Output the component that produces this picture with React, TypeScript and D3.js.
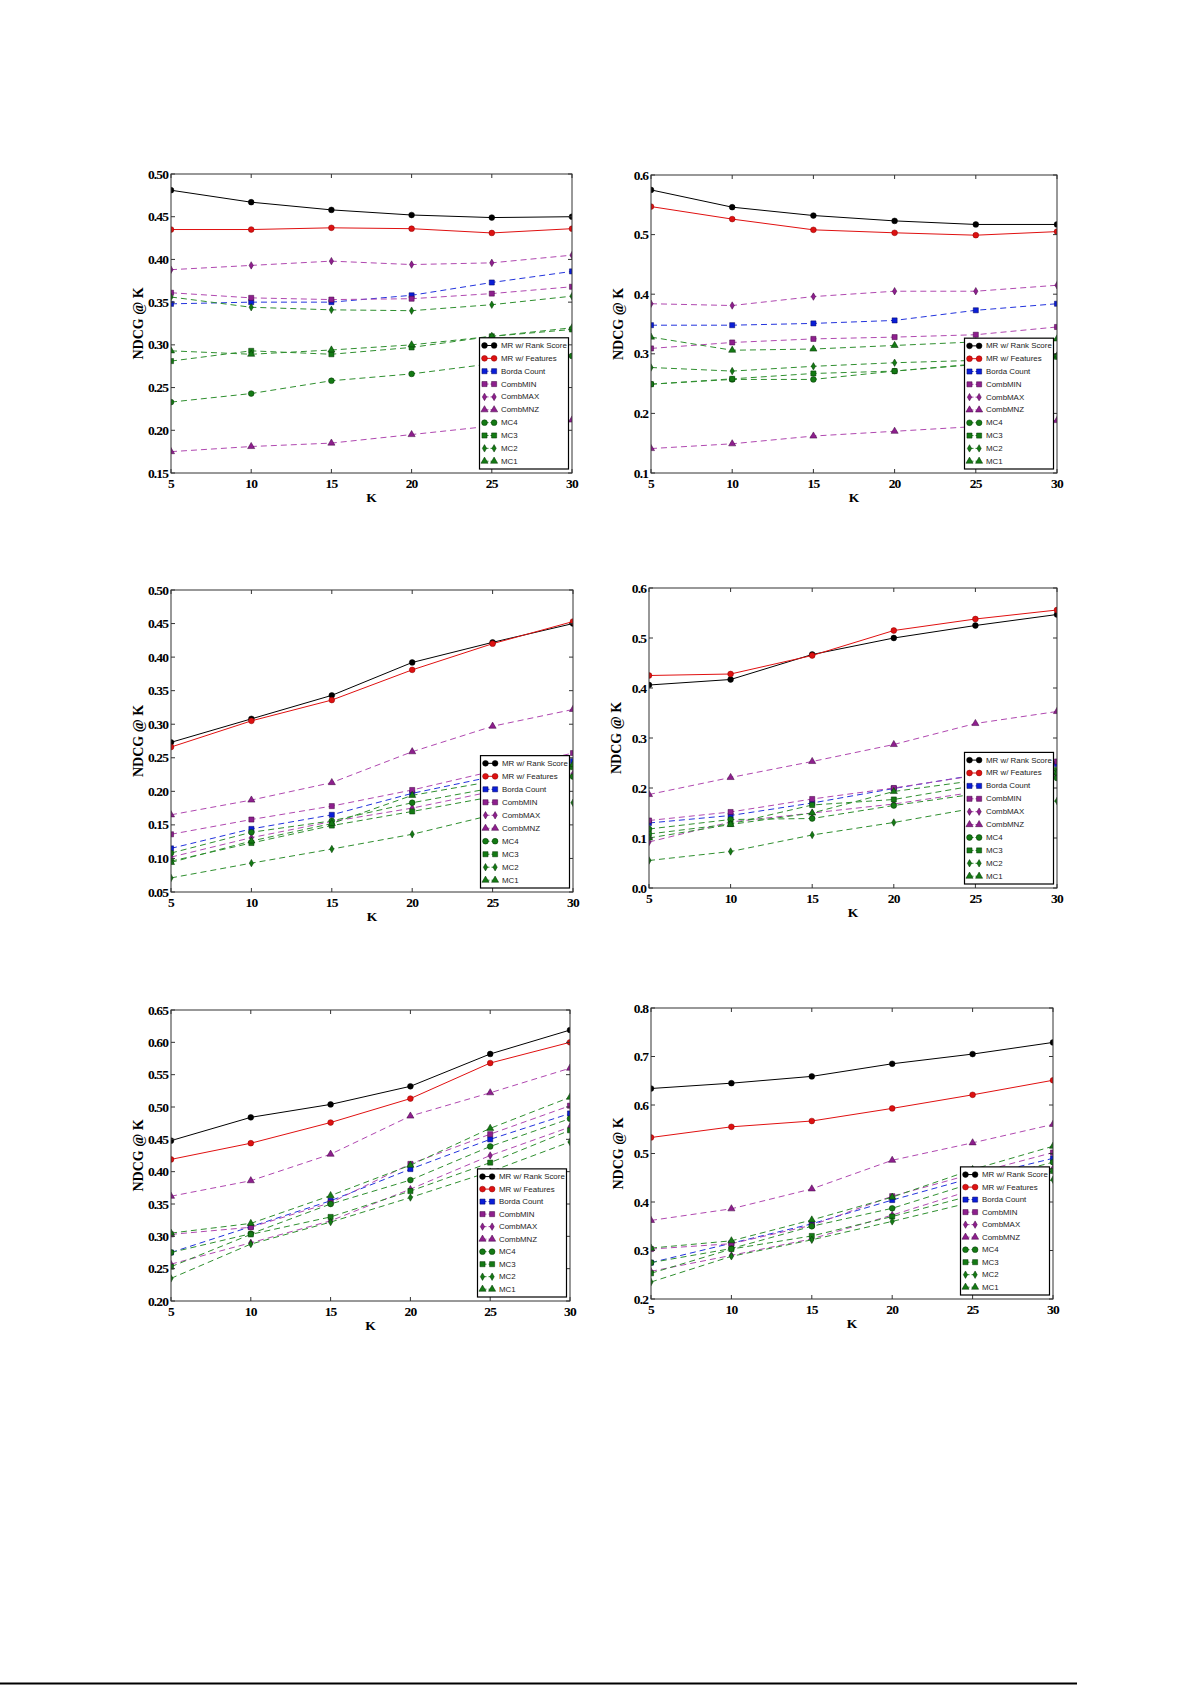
import React from "react";
import * as d3 from "d3";

// K values on the x axis (same for all six panels)
const kValues = [5, 10, 15, 20, 25, 30];

const seriesNames = [
  "MR w/ Rank Score",
  "MR w/ Features",
  "Borda Count",
  "CombMIN",
  "CombMAX",
  "CombMNZ",
  "MC4",
  "MC3",
  "MC2",
  "MC1",
];

// NDCG@K per panel, one row per series (same order as seriesNames)
const panelA = [
  [0.481, 0.467, 0.458, 0.452, 0.449, 0.45],
  [0.435, 0.435, 0.437, 0.436, 0.431, 0.436],
  [0.348, 0.35, 0.35, 0.358, 0.373, 0.386],
  [0.361, 0.355, 0.353, 0.354, 0.36, 0.368],
  [0.388, 0.393, 0.398, 0.394, 0.396, 0.405],
  [0.175, 0.181, 0.185, 0.195, 0.205, 0.212],
  [0.233, 0.243, 0.258, 0.266, 0.278, 0.287],
  [0.281, 0.293, 0.289, 0.297, 0.31, 0.318],
  [0.356, 0.344, 0.341, 0.34, 0.347, 0.357],
  [0.293, 0.289, 0.294, 0.3, 0.31, 0.32],
];

const panelB = [
  [0.575, 0.546, 0.532, 0.523, 0.517, 0.517],
  [0.547, 0.526, 0.508, 0.503, 0.499, 0.505],
  [0.348, 0.348, 0.351, 0.356, 0.373, 0.384],
  [0.309, 0.319, 0.325, 0.328, 0.332, 0.345],
  [0.384, 0.381, 0.396, 0.405, 0.405, 0.415],
  [0.141, 0.149, 0.162, 0.17, 0.178, 0.188],
  [0.249, 0.257, 0.257, 0.271, 0.283, 0.296],
  [0.249, 0.258, 0.267, 0.271, 0.282, 0.295],
  [0.277, 0.271, 0.279, 0.285, 0.289, 0.297],
  [0.328, 0.306, 0.308, 0.314, 0.32, 0.325],
];

const panelC = [
  [0.273, 0.308, 0.343, 0.392, 0.422, 0.45],
  [0.266, 0.305, 0.336, 0.381, 0.42, 0.453],
  [0.115, 0.144, 0.165, 0.197, 0.222, 0.245],
  [0.136, 0.158, 0.178, 0.202, 0.23, 0.257],
  [0.102, 0.131, 0.155, 0.175, 0.2, 0.226],
  [0.165, 0.187, 0.213, 0.259, 0.297, 0.322],
  [0.108, 0.139, 0.156, 0.183, 0.205, 0.222],
  [0.096, 0.123, 0.149, 0.17, 0.192, 0.236],
  [0.071, 0.093, 0.114, 0.136, 0.165, 0.183],
  [0.094, 0.126, 0.152, 0.194, 0.215, 0.24],
];

const panelD = [
  [0.406, 0.417, 0.467, 0.5, 0.525, 0.547],
  [0.425, 0.428, 0.465, 0.515, 0.538, 0.556],
  [0.13, 0.145, 0.17, 0.199, 0.226, 0.248],
  [0.135, 0.152, 0.178, 0.2, 0.225, 0.253],
  [0.092, 0.132, 0.15, 0.168, 0.192, 0.225],
  [0.187, 0.221, 0.253, 0.287, 0.329, 0.353],
  [0.118, 0.137, 0.139, 0.165, 0.188, 0.22],
  [0.108, 0.128, 0.166, 0.177, 0.205, 0.236],
  [0.055, 0.073, 0.106, 0.131, 0.16, 0.174],
  [0.1, 0.127, 0.15, 0.193, 0.215, 0.23],
];

const panelE = [
  [0.448, 0.484, 0.504, 0.532, 0.582, 0.619],
  [0.419, 0.444, 0.476, 0.513, 0.568, 0.6],
  [0.275, 0.315, 0.355, 0.404, 0.45, 0.49],
  [0.303, 0.314, 0.352, 0.412, 0.458, 0.502],
  [0.257, 0.29, 0.324, 0.373, 0.425, 0.469],
  [0.362, 0.386, 0.427, 0.486, 0.522, 0.56],
  [0.275, 0.304, 0.35, 0.387, 0.439, 0.482],
  [0.253, 0.303, 0.33, 0.37, 0.414, 0.464],
  [0.235, 0.288, 0.322, 0.36, 0.4, 0.446],
  [0.305, 0.32, 0.363, 0.41, 0.467, 0.515],
];

const panelF = [
  [0.634, 0.645, 0.659, 0.685, 0.705, 0.729],
  [0.533, 0.555, 0.567, 0.593, 0.621, 0.651],
  [0.275, 0.315, 0.355, 0.404, 0.45, 0.49],
  [0.303, 0.314, 0.352, 0.412, 0.458, 0.502],
  [0.257, 0.29, 0.324, 0.373, 0.425, 0.469],
  [0.362, 0.386, 0.427, 0.486, 0.522, 0.56],
  [0.275, 0.304, 0.35, 0.387, 0.439, 0.482],
  [0.253, 0.303, 0.33, 0.37, 0.414, 0.464],
  [0.235, 0.288, 0.322, 0.36, 0.4, 0.446],
  [0.305, 0.32, 0.363, 0.41, 0.467, 0.515],
];

// y tick labels per panel
const yTicksA = [0.15, 0.2, 0.25, 0.3, 0.35, 0.4, 0.45, 0.5];
const yTicksB = [0.1, 0.2, 0.3, 0.4, 0.5, 0.6];
const yTicksC = [0.05, 0.1, 0.15, 0.2, 0.25, 0.3, 0.35, 0.4, 0.45, 0.5];
const yTicksD = [0.0, 0.1, 0.2, 0.3, 0.4, 0.5, 0.6];
const yTicksE = [0.2, 0.25, 0.3, 0.35, 0.4, 0.45, 0.5, 0.55, 0.6, 0.65];
const yTicksF = [0.2, 0.3, 0.4, 0.5, 0.6, 0.7, 0.8];

type Marker = "circle" | "square" | "diamond" | "triangle";

const BLACK = { line: "#000000", fill: "#000000", edge: "#000000" };
const RED = { line: "#e01010", fill: "#dd1111", edge: "#8a0000" };
const BLUE = { line: "#2233dd", fill: "#0a1ed8", edge: "#000060" };
const PURPLE = { line: "#b048b0", fill: "#8e1f8e", edge: "#3f003f" };
const GREEN = { line: "#2f8f2f", fill: "#147a14", edge: "#003300" };

const styles: { c: typeof BLACK; m: Marker; dashed: boolean }[] = [
  { c: BLACK, m: "circle", dashed: false },
  { c: RED, m: "circle", dashed: false },
  { c: BLUE, m: "square", dashed: true },
  { c: PURPLE, m: "square", dashed: true },
  { c: PURPLE, m: "diamond", dashed: true },
  { c: PURPLE, m: "triangle", dashed: true },
  { c: GREEN, m: "circle", dashed: true },
  { c: GREEN, m: "square", dashed: true },
  { c: GREEN, m: "diamond", dashed: true },
  { c: GREEN, m: "triangle", dashed: true },
];

const symbolPath = (m: Marker) => {
  if (m === "circle") return d3.symbol(d3.symbolCircle, 26)()!;
  if (m === "square") return d3.symbol(d3.symbolSquare, 26)()!;
  if (m === "triangle") return d3.symbol(d3.symbolTriangle, 22)()!;
  return d3.symbol(d3.symbolDiamond, 16)()!;
};

const serif = "'Liberation Serif', 'DejaVu Serif', serif";
const sans = "'Liberation Sans', 'DejaVu Sans', sans-serif";

interface PanelProps {
  id: string;
  data: number[][];
  domain: [number, number];
  ticks: number[];
  fmt: string;
  x0: number;
  y0: number;
  w: number;
  h: number;
}

function Panel({ id, data, domain, ticks, fmt, x0, y0, w, h }: PanelProps) {
  const x = d3.scaleLinear().domain([5, 30]).range([0, w]);
  const y = d3.scaleLinear().domain(domain).range([h, 0]);
  const line = d3
    .line<number>()
    .x((_, i) => x(kValues[i]))
    .y((d) => y(d));
  const format = d3.format(fmt);
  const tickLen = 4;

  // legend geometry
  const rowGap = 12.9 * (h / 300);
  const legW = 89;
  const legH = rowGap * 9 + 15.5;
  const legX = w - 3.5 - legW;
  const legY = h - 4 - legH;

  return (
    <g transform={`translate(${x0},${y0})`}>
      <defs>
        <clipPath id={`clip-${id}`}>
          <rect x={0} y={0} width={w} height={h} />
        </clipPath>
      </defs>

      {/* series */}
      <g clipPath={`url(#clip-${id})`}>
        {data.map((vals, si) => {
          const s = styles[si];
          return (
            <g key={si}>
              <path
                d={line(vals) || ""}
                fill="none"
                stroke={s.c.line}
                strokeWidth={1}
                strokeDasharray={s.dashed ? "6,4" : undefined}
              />
              {vals.map((v, i) => (
                <path
                  key={i}
                  d={symbolPath(s.m)}
                  transform={`translate(${x(kValues[i])},${y(v)})`}
                  fill={s.c.fill}
                  stroke={s.c.edge}
                  strokeWidth={0.5}
                />
              ))}
            </g>
          );
        })}
      </g>

      {/* frame */}
      <rect x={0} y={0} width={w} height={h} fill="none" stroke="#333" strokeWidth={1} />

      {/* ticks, inward on all four sides */}
      {kValues.map((k) => (
        <g key={`xt${k}`}>
          <line x1={x(k)} x2={x(k)} y1={h} y2={h - tickLen} stroke="#333" />
          <line x1={x(k)} x2={x(k)} y1={0} y2={tickLen} stroke="#333" />
          <text
            x={x(k)}
            y={h + 10}
            textAnchor="middle"
            dominantBaseline="central"
            fontFamily={serif}
            fontWeight="bold"
            fontSize={13.5}
            letterSpacing={-0.8}
          >
            {k}
          </text>
        </g>
      ))}
      {ticks.map((t) => (
        <g key={`yt${t}`}>
          <line x1={0} x2={tickLen} y1={y(t)} y2={y(t)} stroke="#333" />
          <line x1={w} x2={w - tickLen} y1={y(t)} y2={y(t)} stroke="#333" />
          <text
            x={-3}
            y={y(t)}
            textAnchor="end"
            dominantBaseline="central"
            fontFamily={serif}
            fontWeight="bold"
            fontSize={13.5}
            letterSpacing={-0.9}
          >
            {format(t)}
          </text>
        </g>
      ))}

      {/* axis titles */}
      <text
        x={w / 2}
        y={h + 24}
        textAnchor="middle"
        dominantBaseline="central"
        fontFamily={serif}
        fontWeight="bold"
        fontSize={13.5}
      >
        K
      </text>
      <text
        transform={`translate(${-33},${h / 2}) rotate(-90)`}
        textAnchor="middle"
        dominantBaseline="central"
        fontFamily={serif}
        fontWeight="bold"
        fontSize={14}
      >
        NDCG @ K
      </text>

      {/* legend */}
      <g transform={`translate(${legX},${legY})`}>
        <rect x={0} y={0} width={legW} height={legH} fill="#fff" stroke="#000" strokeWidth={1.2} />
        {seriesNames.map((name, i) => {
          const s = styles[i];
          const cy = 7.7 + i * rowGap;
          return (
            <g key={name}>
              <line
                x1={5}
                x2={14.6}
                y1={cy}
                y2={cy}
                stroke={s.c.line}
                strokeWidth={1}
                strokeDasharray={s.dashed ? "4,2" : undefined}
              />
              {[5, 14.6].map((mx) => (
                <path
                  key={mx}
                  d={symbolPath(s.m)}
                  transform={`translate(${mx},${cy})`}
                  fill={s.c.fill}
                  stroke={s.c.edge}
                  strokeWidth={0.5}
                />
              ))}
              <text
                x={21.5}
                y={cy}
                dominantBaseline="central"
                fontFamily={sans}
                fontSize={7.9}
                fill="#222"
              >
                {name}
              </text>
            </g>
          );
        })}
      </g>
    </g>
  );
}

export default function App() {
  return (
    <svg
      width={1192}
      height={1685}
      style={{ position: "absolute", left: 0, top: 0, background: "#fff" }}
    >
      <rect x={0} y={0} width={1192} height={1685} fill="#fff" />
      <Panel id="a" data={panelA} domain={[0.15, 0.5]} ticks={yTicksA} fmt=".2f" x0={171} y0={174} w={401} h={299} />
      <Panel id="b" data={panelB} domain={[0.1, 0.6]} ticks={yTicksB} fmt=".1f" x0={651} y0={175} w={406} h={298} />
      <Panel id="c" data={panelC} domain={[0.05, 0.5]} ticks={yTicksC} fmt=".2f" x0={171} y0={590} w={402} h={302} />
      <Panel id="d" data={panelD} domain={[0.0, 0.6]} ticks={yTicksD} fmt=".1f" x0={649} y0={588} w={408} h={300} />
      <Panel id="e" data={panelE} domain={[0.2, 0.65]} ticks={yTicksE} fmt=".2f" x0={171} y0={1010} w={399} h={291} />
      <Panel id="f" data={panelF} domain={[0.2, 0.8]} ticks={yTicksF} fmt=".1f" x0={651} y0={1008} w={402} h={291} />
      <line x1={0} x2={1077} y1={1683.5} y2={1683.5} stroke="#000" strokeWidth={2} />
    </svg>
  );
}
